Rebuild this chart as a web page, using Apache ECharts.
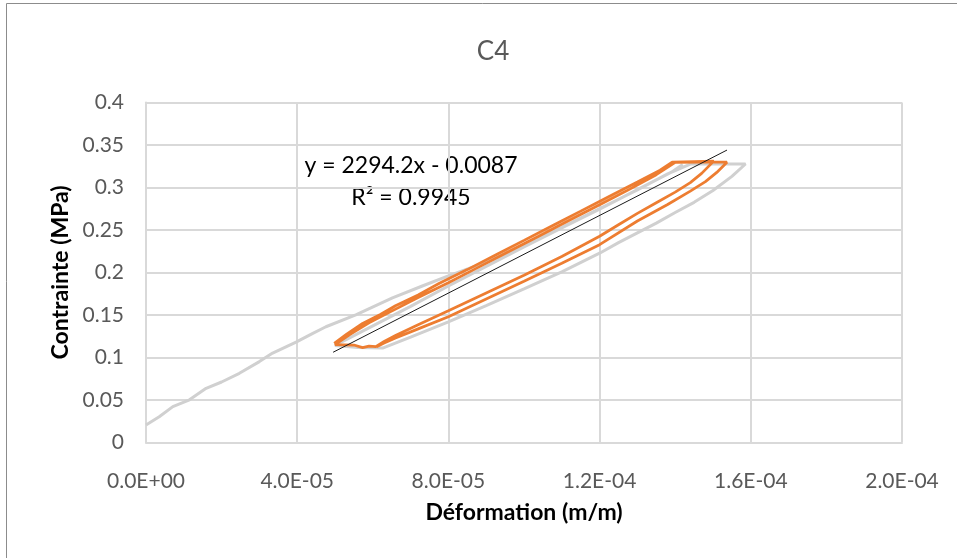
<!DOCTYPE html>
<html>
<head>
<meta charset="utf-8">
<script src="https://cdn.jsdelivr.net/npm/echarts@6/dist/echarts.min.js"></script>
<style>
  html, body { margin: 0; padding: 0; background: #fff; }
  #chart { width: 957px; height: 558px; }
</style>
</head>
<body>
<div id="chart"></div>
<script>
// full test record (grey)
var grayStrain = [0, 3.5e-6, 7.1e-6, 1.15e-5, 1.59e-5, 2.0e-5, 2.47e-5, 3.0e-5, 3.35e-5, 3.97e-5,
    4.4e-5, 4.76e-5, 5.55e-5, 6.52e-5, 7.31e-5, 8.0e-5, 9.0e-5, 1.0e-4, 1.1e-4, 1.2e-4,
    1.3e-4, 1.38e-4, 1.44e-4, 1.586e-4,
    1.55e-4, 1.5e-4, 1.45e-4, 1.4e-4, 1.35e-4, 1.3e-4, 1.25e-4, 1.2e-4, 1.1e-4, 1.0e-4,
    9.0e-5, 8.0e-5, 7.0e-5, 6.26e-5,
    5.6e-5, 5.0e-5, 6.0e-5, 7.0e-5, 8.0e-5, 9.0e-5, 1.0e-4, 1.1e-4, 1.2e-4, 1.3e-4, 1.39e-4, 1.42e-4]
var grayStress = [0.0204, 0.030, 0.042, 0.050, 0.0636, 0.071, 0.0812, 0.095, 0.105, 0.118,
    0.128, 0.136, 0.150, 0.170, 0.184, 0.196, 0.212, 0.232, 0.253, 0.275,
    0.297, 0.316, 0.3276, 0.3276,
    0.313, 0.2964, 0.2825, 0.2705, 0.258, 0.2465, 0.235, 0.2226, 0.2007, 0.1807,
    0.1608, 0.1418, 0.1239, 0.1109,
    0.1115, 0.1140, 0.137, 0.160, 0.184, 0.207, 0.230, 0.2525, 0.2745, 0.2975, 0.318, 0.327]

// cycles used for the fit (orange)
var orangeStrain = [4.98e-5, 5.3e-5, 5.73e-5, 6.2e-5, 6.6e-5, 7.2e-5, 7.75e-5, 8.5e-5, 9.3e-5, 1.0e-4,
    1.08e-4, 1.15e-4, 1.22e-4, 1.3e-4, 1.36e-4, 1.392e-4, 1.45e-4, 1.502e-4,
    1.47e-4, 1.44e-4, 1.4e-4, 1.35e-4, 1.3e-4, 1.25e-4, 1.2e-4, 1.1e-4, 1.0e-4, 9.0e-5,
    8.0e-5, 7.2e-5, 6.6e-5, 6.3e-5, 6.08e-5,
    5.9e-5, 5.73e-5, 5.5e-5, 5.0e-5,
    5.4e-5, 5.9e-5, 6.5e-5, 7.2e-5, 8.0e-5, 8.8e-5, 9.6e-5, 1.04e-4, 1.12e-4, 1.2e-4,
    1.28e-4, 1.35e-4, 1.40e-4, 1.47e-4, 1.537e-4,
    1.51e-4, 1.48e-4, 1.44e-4, 1.38e-4, 1.3e-4, 1.2e-4, 1.1e-4, 1.0e-4, 9.0e-5, 8.0e-5,
    7.2e-5, 6.6e-5, 6.3e-5, 6.1e-5]
var orangeStress = [0.1165, 0.127, 0.140, 0.1505, 0.1607, 0.1735, 0.187, 0.2033, 0.2217, 0.2377,
    0.2561, 0.2721, 0.2882, 0.3065, 0.3203, 0.3297, 0.3305, 0.331,
    0.3166, 0.3057, 0.2945, 0.282, 0.2695, 0.2561, 0.2426, 0.2187, 0.1967, 0.1758,
    0.1548, 0.1385, 0.1257, 0.1188, 0.1126,
    0.1132, 0.1115, 0.1145, 0.115,
    0.1272, 0.1407, 0.1544, 0.1705, 0.1878, 0.2062, 0.2245, 0.2429, 0.2613, 0.2796,
    0.298, 0.315, 0.3295, 0.3298, 0.3297,
    0.3177, 0.3068, 0.2957, 0.2799, 0.2605, 0.2326, 0.2107, 0.1897, 0.1688, 0.1478,
    0.1335, 0.1227, 0.1168, 0.1125]

// linear trendline ends
var trendStrain = [4.95e-5, 1.537e-4]
var trendStress = [0.106, 0.344]

var equationText = ['y = 2294.2x - 0.0087', 'R² = 0.9945']

function pairs(xs, ys) {
    return xs.map(function (x, i) { return [x, ys[i]] })
}

function sciLabel(v) {
    var parts = Number(v).toExponential(1).split('e')
    var exp = parseInt(parts[1], 10)
    var sign = exp < 0 ? '-' : '+'
    var abs = Math.abs(exp)
    return parts[0] + 'E' + sign + (abs < 10 ? '0' + abs : abs)
}

var chart = echarts.init(document.getElementById('chart'))
var font = 'Lato, "Open Sans", sans-serif'

chart.setOption({
    animation: false,
    backgroundColor: '#fff',
    title: {
        text: 'C4',
        left: 488,
        top: 34,
        textAlign: 'center',
        textStyle: { fontFamily: font, fontSize: 26, fontWeight: 'normal', color: '#595959' }
    },
    grid: { left: 146, right: 55, top: 102.5, bottom: 115.7 },
    xAxis: {
        type: 'value',
        min: 0,
        max: 2e-4,
        interval: 4e-5,
        name: 'Déformation (m/m)',
        nameLocation: 'middle',
        nameGap: 59,
        nameTextStyle: { fontFamily: font, fontSize: 23, fontWeight: 'bold', color: '#000' },
        axisTick: { show: false },
        axisLine: { show: true, lineStyle: { color: '#d9d9d9', width: 2 } },
        splitLine: { show: true, lineStyle: { color: '#d9d9d9', width: 2 } },
        axisLabel: {
            margin: 28,
            fontFamily: font,
            fontSize: 21,
            color: '#595959',
            formatter: sciLabel
        }
    },
    yAxis: {
        type: 'value',
        min: 0,
        max: 0.4,
        interval: 0.05,
        name: 'Contrainte (MPa)',
        nameLocation: 'middle',
        nameGap: 73,
        nameRotate: 90,
        nameTextStyle: { fontFamily: font, fontSize: 23, fontWeight: 'bold', color: '#000' },
        axisTick: { show: false },
        axisLine: { show: true, lineStyle: { color: '#d9d9d9', width: 2 } },
        splitLine: { show: true, lineStyle: { color: '#d9d9d9', width: 2 } },
        axisLabel: { margin: 22, fontFamily: font, fontSize: 21, color: '#595959' }
    },
    graphic: [{
        type: 'rect',
        shape: { x: 6.5, y: 3.5, width: 1000, height: 1000 },
        style: { fill: 'none', stroke: '#8c8c8c', lineWidth: 1 },
        silent: true
    }, {
        type: 'text',
        x: 411, y: 166,
        style: {
            text: equationText[0], fontFamily: font, fontSize: 23, fill: '#000',
            textAlign: 'center', textVerticalAlign: 'middle'
        }
    }, {
        type: 'text',
        x: 411, y: 198,
        style: {
            text: equationText[1], fontFamily: font, fontSize: 23, fill: '#000',
            textAlign: 'center', textVerticalAlign: 'middle'
        }
    }],
    series: [{
        name: 'essai',
        type: 'line',
        data: pairs(grayStrain, grayStress),
        showSymbol: false,
        lineStyle: { color: '#d0d0d0', width: 3 },
        z: 2
    }, {
        name: 'cycles',
        type: 'line',
        data: pairs(orangeStrain, orangeStress),
        showSymbol: false,
        lineStyle: { color: '#ed7d31', width: 2.75 },
        z: 3
    }, {
        name: 'tendance',
        type: 'line',
        data: pairs(trendStrain, trendStress),
        showSymbol: false,
        lineStyle: { color: '#1a1a1a', width: 1 },
        z: 4
    }]
})
</script>
</body>
</html>
